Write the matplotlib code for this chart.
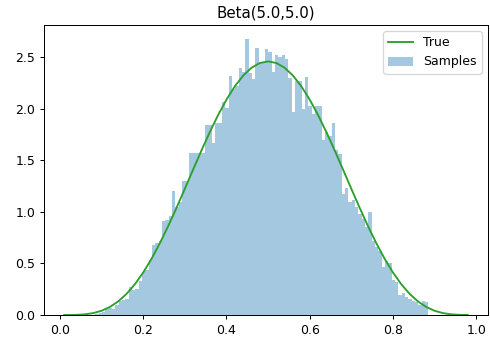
import numpy as np
import matplotlib
matplotlib.use("Agg")
import matplotlib.pyplot as plt

# histogram of the samples: 100 bins between the smallest and largest sample
bin_lo, bin_hi, n_bins = 0.085, 0.885, 100
sample_density = [
    0.01, 0.02, 0.03, 0.06, 0.07, 0.06, 0.10, 0.14, 0.15, 0.16,
    0.27, 0.24, 0.25, 0.33, 0.42, 0.44, 0.53, 0.68, 0.70, 0.72,
    0.91, 0.92, 0.96, 1.20, 1.05, 1.10, 1.30, 1.30, 1.57, 1.57,
    1.57, 1.57, 1.57, 1.84, 1.84, 1.67, 1.86, 1.86, 2.07, 2.01,
    2.32, 2.19, 2.22, 2.40, 2.36, 2.68, 2.35, 2.29, 2.59, 2.45,
    2.45, 2.58, 2.55, 2.36, 2.52, 2.50, 2.52, 2.48, 2.30, 1.97,
    2.27, 2.27, 2.00, 2.31, 2.03, 1.95, 2.03, 2.03, 1.70, 1.78,
    1.74, 1.86, 1.60, 1.56, 1.17, 1.23, 1.10, 1.12, 1.05, 0.98,
    0.93, 0.85, 1.00, 0.72, 0.66, 0.62, 0.47, 0.52, 0.50, 0.34,
    0.32, 0.19, 0.21, 0.17, 0.16, 0.14, 0.13, 0.10, 0.14, 0.13,
]

# true density curve
x_true = [0.01, 0.02, 0.04, 0.06, 0.08, 0.10, 0.12, 0.14, 0.16, 0.18,
          0.20, 0.22, 0.24, 0.26, 0.28, 0.30, 0.32, 0.34, 0.36, 0.38,
          0.40, 0.42, 0.44, 0.46, 0.48, 0.50, 0.52, 0.54, 0.56, 0.58,
          0.60, 0.62, 0.64, 0.66, 0.68, 0.70, 0.72, 0.74, 0.76, 0.78,
          0.80, 0.82, 0.84, 0.86, 0.88, 0.90, 0.92, 0.94, 0.96, 0.98]
y_true = [0.0000, 0.0001, 0.0014, 0.0064, 0.0185, 0.0413, 0.0783, 0.1324, 0.2056, 0.2990,
          0.4129, 0.5463, 0.6974, 0.8633, 1.0407, 1.2252, 1.4125, 1.5974, 1.7753, 1.9411,
          2.0902, 2.2185, 2.3222, 2.3985, 2.4452, 2.4609, 2.4452, 2.3985, 2.3222, 2.2185,
          2.0902, 1.9411, 1.7753, 1.5974, 1.4125, 1.2252, 1.0407, 0.8633, 0.6974, 0.5463,
          0.4129, 0.2990, 0.2056, 0.1324, 0.0783, 0.0413, 0.0185, 0.0064, 0.0014, 0.0001]

title = "Beta(5.0,5.0)"

dpi = 90
fig = plt.figure(figsize=(490 / dpi, 344 / dpi), dpi=dpi)
fig.subplots_adjust(left=44 / 490, right=488 / 490, top=1 - 25 / 344, bottom=1 - 315 / 344)
ax = fig.add_subplot(111)

edges = np.linspace(bin_lo, bin_hi, n_bins + 1)
ax.plot(x_true, y_true, color="C2", label="True")
ax.hist(edges[:-1], bins=edges, weights=sample_density, alpha=0.4, color="C0", label="Samples")

ax.set_title(title)
ax.legend(loc="upper right")

fig.savefig("out.png", dpi=dpi)
